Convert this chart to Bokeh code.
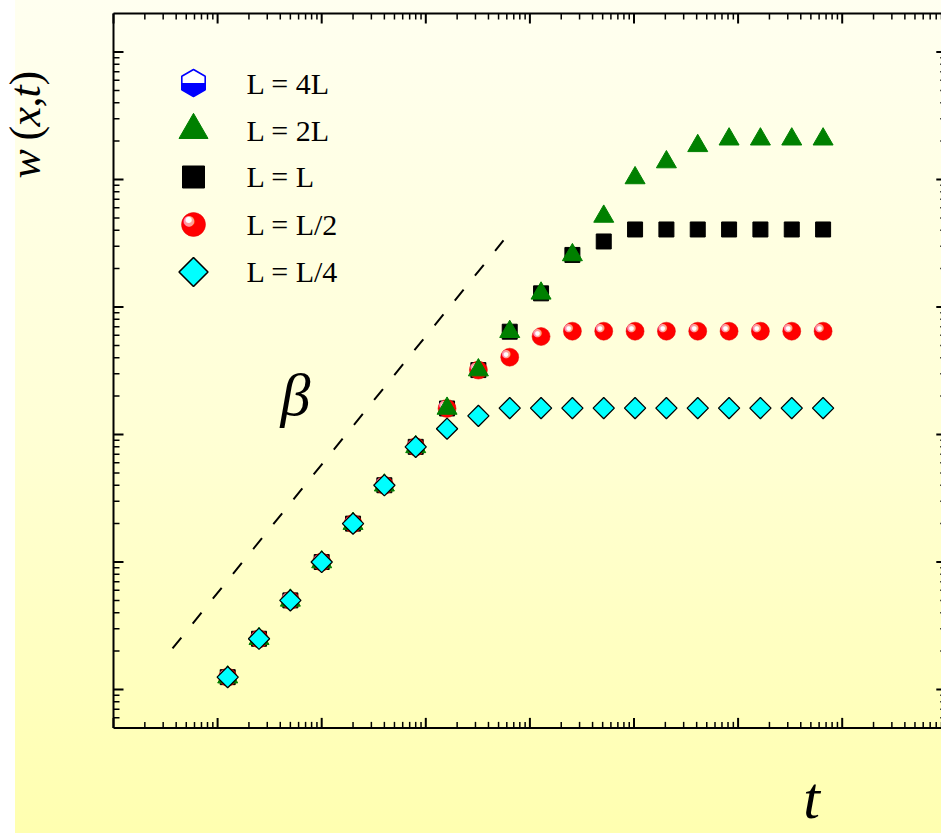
import math
from bokeh.plotting import figure
from bokeh.models import Range1d, LinearScale, Label
from bokeh.core.properties import value
from bokeh.embed import file_html
from bokeh.resources import INLINE

# ---------------- data ----------------
t = [12.5, 25, 50, 100, 200, 400, 800, 1600, 3200, 6400, 12800, 25600,
     51200, 102400, 204800, 409600, 819200, 1638400, 3276800, 6553600]
w_2L = [1.25, 2.5, 5, 10, 20, 40, 80, 160, 320, 640, 1280, 2560,
        5130, 10280, 13710, 18370, 20700, 20700, 20700, 20700]
w_L = [1.25, 2.5, 5, 10, 20, 40, 80, 160, 320, 640, 1280, 2560,
       3265, 4055, 4055, 4055, 4055, 4055, 4055, 4055]
w_L2 = [1.25, 2.5, 5, 10, 20, 40, 80, 160, 320, 404, 587, 646,
        646, 646, 646, 646, 646, 646, 646, 646]
w_L4 = [1.25, 2.5, 5, 10, 20, 40, 80, 111, 140, 161, 161, 161,
        161, 161, 161, 161, 161, 161, 161, 161]
beta_t = [3.69, 5576]
beta_w = [2.1, 3325]
legend_labels = ["L = 4L", "L = 2L", "L = L", "L = L/2", "L = L/4"]

# axis box (data limits) and tick positions
X_LO, X_HI = 1, 1e8
Y_LO, Y_HI = 0.5, 2e5
x_major = [10 ** d for d in range(0, 9)]
x_minor = [k * 10 ** d for d in range(0, 8) for k in range(2, 10)]
y_major = [10 ** d for d in range(0, 6)]
y_minor = [v for v in (k * 10 ** d for d in range(-1, 6) for k in range(2, 10)) if Y_LO < v < Y_HI]

SERIF = "Liberation Serif"

# the plotting frame covers the whole canvas; the axis box is drawn inside it
p = figure(width=941, height=833, x_axis_type="log", y_axis_type="log",
           x_axis_location=None, y_axis_location=None,
           x_range=Range1d(10 ** (-113 / 104.1), 10 ** (828 / 104.1)),
           y_range=Range1d(10 ** (-144 / 127.5), 10 ** (689 / 127.5)),
           output_backend="svg", toolbar_location=None, min_border=0)
p.border_fill_alpha = 0
p.background_fill_alpha = 0
p.outline_line_color = None
p.grid.visible = False
p.styles = {"background": "linear-gradient(to right, #ffffff 15px, rgba(255,255,255,0) 15px), "
                          "linear-gradient(to bottom, #fffff0 0%, #ffffd6 50%, #ffffb0 100%)"}

# page-pixel coordinate system for legend / labels
p.extra_x_ranges = {"px": Range1d(0, 941)}
p.extra_y_ranges = {"py": Range1d(833, 0)}
p.extra_x_scales = {"px": LinearScale()}
p.extra_y_scales = {"py": LinearScale()}
kw = dict(x_range_name="px", y_range_name="py")

# ---------------- axis box with inward ticks ----------------
p.multi_line(xs=[[X_LO, X_HI], [X_LO, X_HI], [X_LO, X_LO], [X_HI, X_HI]],
             ys=[[Y_LO, Y_LO], [Y_HI, Y_HI], [Y_LO, Y_HI], [Y_LO, Y_HI]],
             line_color="black", line_width=2)


def ticks(xs, ys, length, angle, width):
    p.ray(x=xs, y=ys, length=length, length_units="screen", angle=angle,
          line_color="black", line_width=width)


ticks(x_major, [Y_LO] * len(x_major), 10, math.pi / 2, 2)
ticks(x_minor, [Y_LO] * len(x_minor), 6, math.pi / 2, 1.5)
ticks(x_major, [Y_HI] * len(x_major), 10, -math.pi / 2, 2)
ticks(x_minor, [Y_HI] * len(x_minor), 6, -math.pi / 2, 1.5)
ticks([X_LO] * len(y_major), y_major, 10, 0, 2)
ticks([X_LO] * len(y_minor), y_minor, 6, 0, 1.5)
ticks([X_HI] * len(y_major), y_major, 10, math.pi, 2)
ticks([X_HI] * len(y_minor), y_minor, 6, math.pi, 1.5)

# beta guide line
p.line(beta_t, beta_w, line_color="black", line_width=2, line_dash="14 18")

# ---------------- series ----------------
p.scatter(t, w_L, marker="square", size=15, fill_color="black", line_color="black")
p.scatter(t, w_L2, marker="circle", size=18, fill_color="#ff0000", line_color="#e00000", line_width=0.5)
p.text(t, w_L2, text=value("\u25cf"), text_font=value("DejaVu Sans"), text_font_size=value("11px"),
       text_color="#ff9c9c", x_offset=-3.5, y_offset=-3.5, text_align="center", text_baseline="middle")
p.text(t, w_L2, text=value("\u25cf"), text_font=value("DejaVu Sans"), text_font_size=value("6px"),
       text_color="#ffffff", x_offset=-3.5, y_offset=-4, text_align="center", text_baseline="middle")
p.scatter(t, w_2L, marker="triangle", size=20, fill_color="#008000", line_color="#008000")
p.scatter(t, w_L4, marker="square", angle=math.pi / 4, size=15, fill_color="#00ffff",
          line_color="black", line_width=1.3)

# ---------------- legend (page-pixel coordinates) ----------------
LX = 193
rows = [82.5, 129.6, 176.5, 224, 271.5]
text_base = [83, 130, 176, 224, 271]

R = 13.5
hw = R * math.sqrt(3) / 2
cy = rows[0]
top_half_x = [LX, LX + hw, LX + hw, LX - hw, LX - hw]
top_half_y = [cy - R, cy - R / 2, cy, cy, cy - R / 2]
bot_half_x = [LX + hw, LX + hw, LX, LX - hw, LX - hw]
bot_half_y = [cy, cy + R / 2, cy + R, cy + R / 2, cy]
hex_x = [LX, LX + hw, LX + hw, LX, LX - hw, LX - hw]
hex_y = [cy - R, cy - R / 2, cy + R / 2, cy + R, cy + R / 2, cy - R / 2]
p.patch(top_half_x, top_half_y, fill_color="white", line_color=None, **kw)
p.patch(bot_half_x, bot_half_y, fill_color="#0000ff", line_color=None, **kw)
p.patch(hex_x, hex_y, fill_color=None, line_color="#0000ff", line_width=1.6, **kw)

p.scatter([LX], [rows[1]], marker="triangle", size=29, fill_color="#008000", line_color="#008000", **kw)
p.scatter([LX], [rows[2]], marker="square", size=22, fill_color="black", line_color="black", **kw)
p.scatter([LX], [rows[3]], marker="circle", size=24, fill_color="#ff0000", line_color="#e00000",
          line_width=0.5, **kw)
p.text([LX], [rows[3]], text=value("\u25cf"), text_font=value("DejaVu Sans"), text_font_size=value("14px"),
       text_color="#ff9c9c", x_offset=-4.5, y_offset=-4.5, text_align="center", text_baseline="middle", **kw)
p.text([LX], [rows[3]], text=value("\u25cf"), text_font=value("DejaVu Sans"), text_font_size=value("8px"),
       text_color="#ffffff", x_offset=-4.5, y_offset=-5, text_align="center", text_baseline="middle", **kw)
p.scatter([LX], [rows[4]], marker="square", angle=math.pi / 4, size=20.5, fill_color="#00ffff",
          line_color="black", line_width=1.6, **kw)

p.text([246] * 5, text_base, text=legend_labels, text_font=value(SERIF), text_font_size=value("30px"),
       text_color="black", text_align="left", text_baseline="alphabetic", **kw)


# ---------------- labels (page-pixel coordinates) ----------------
def page_label(px, py, txt, size, style="italic", angle=0.0, align="center"):
    p.add_layout(Label(x=px, y=py, text=txt, text_font=SERIF, text_font_style=style,
                       text_color="black", text_font_size=size, angle=angle,
                       text_align=align, text_baseline="alphabetic", **kw))


page_label(295, 394, "\u03b2", "60px")
page_label(811, 797, "t", "60px")

ylab_parts = [("w", "italic", 178), ("(", "normal", 140), ("x", "italic", 126),
              (",", "normal", 107), ("t", "italic", 97), (")", "normal", 85)]
for txt, style, yy in ylab_parts:
    page_label(25, yy, txt, "44px", style=style, angle=math.pi / 2, align="left")

open("out.html", "w").write(file_html(p, INLINE))
